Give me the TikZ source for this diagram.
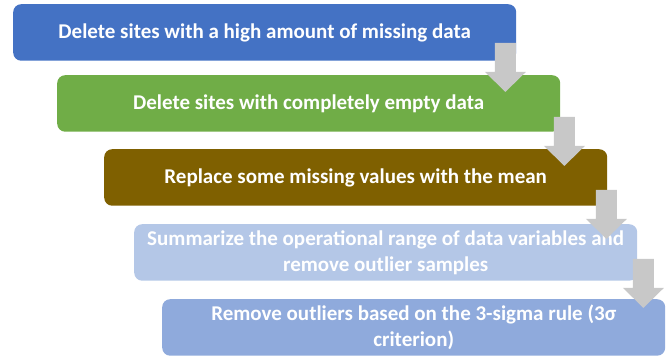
\documentclass[tikz,border=0pt]{standalone}
\usepackage{fontspec}
\setmainfont{Carlito}
\usetikzlibrary{calc}
\definecolor{stepblue}{HTML}{4472C4}
\definecolor{stepgreen}{HTML}{70AD47}
\definecolor{stepbrown}{HTML}{7F6000}
\definecolor{steppale}{HTML}{B4C7E7}
\definecolor{stepsoft}{HTML}{8FAADC}
\definecolor{arrowgray}{HTML}{C8C8C8}
\begin{document}
\begin{tikzpicture}[x=1pt,y=-1pt,
  stepbox/.style={anchor=north west, rounded corners=8pt, minimum width=503pt,
    minimum height=56.5pt, inner sep=0pt, text=white, align=center,
    font=\fontsize{21}{26}\selectfont\bfseries},
  downarrow/.pic={
    \fill[arrowgray] (-10.5,0) -- (10.5,0) -- (10.5,29) -- (20.5,29) -- (0,49)
      -- (-20.5,29) -- (-10.5,29) -- cycle;}]
\useasboundingbox (0,0) rectangle (667,358);

% process steps, each one shifted right of the previous
\node[stepbox, fill=stepblue]  (b1) at (13,4)    {Delete sites with a high amount of missing data};
\node[stepbox, fill=stepgreen] (b2) at (57,75)   {Delete sites with completely empty data};
\node[stepbox, fill=stepbrown] (b3) at (104,149) {Replace some missing values with the mean};
\node[stepbox, fill=steppale]  (b4) at (134,224) {Summarize the operational range of data variables and\\remove outlier samples};
\node[stepbox, fill=stepsoft]  (b5) at (162,299) {Remove outliers based on the 3-sigma rule (3σ\\criterion)};

% block arrows stepping down from one box to the next
\pic at ($(b1.south east)+(-11,-18)$) {downarrow};
\pic at ($(b2.south east)+(4,-15)$)   {downarrow};
\pic at ($(b3.south east)+(-1,-16)$)  {downarrow};
\pic at ($(b4.south east)+(6,-22)$)   {downarrow};
\end{tikzpicture}
\end{document}
